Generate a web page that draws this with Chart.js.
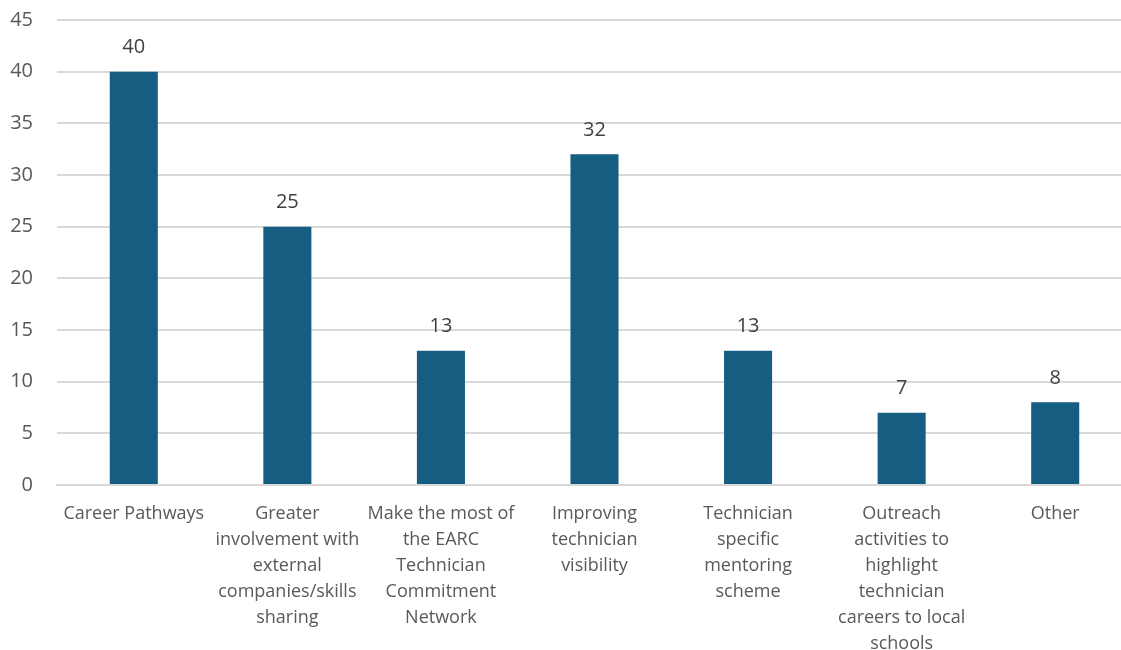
<!DOCTYPE html>
<html>
<head>
<meta charset="utf-8">
<script src="https://cdn.jsdelivr.net/npm/chart.js@4.4.1/dist/chart.umd.min.js"></script>
<style>
  html, body { margin: 0; padding: 0; background: #fff; overflow: hidden; }
  /* plot runs a little past the right edge of the window */
  #wrap { width: 1132px; height: 650px; position: relative; }
</style>
</head>
<body>
<div id="wrap"><canvas id="chart"></canvas></div>
<script>
// categories, wrapped as they appear under each bar
const categories = [
    ['Career Pathways'],
    ['Greater', 'involvement with', 'external', 'companies/skills', 'sharing'],
    ['Make the most of', 'the EARC', 'Technician', 'Commitment', 'Network'],
    ['Improving', 'technician', 'visibility'],
    ['Technician', 'specific', 'mentoring', 'scheme'],
    ['Outreach', 'activities to', 'highlight', 'technician', 'careers to local', 'schools'],
    ['Other']
];
const responses = [40, 25, 13, 32, 13, 7, 8];
const yTicks = [0, 5, 10, 15, 20, 25, 30, 35, 40, 45];

const textColor = '#595959';
const gridColor = '#d9d9d9';
const barColor = '#155e81';
const fontFamily = '"Open Sans", "Noto Sans", sans-serif';

// value labels above each bar
const valueLabels = {
    id: 'valueLabels',
    afterDatasetsDraw(chart) {
        const ctx = chart.ctx;
        const meta = chart.getDatasetMeta(0);
        ctx.save();
        ctx.fillStyle = '#404040';
        ctx.font = '20px ' + fontFamily;
        ctx.textAlign = 'center';
        ctx.textBaseline = 'middle';
        meta.data.forEach((bar, i) => {
            ctx.fillText(String(responses[i]), bar.x, bar.y - 24);
        });
        ctx.restore();
    }
};

new Chart(document.getElementById('chart'), {
    type: 'bar',
    data: {
        labels: categories,
        datasets: [{
            data: responses,
            backgroundColor: barColor,
            borderWidth: 0,
            categoryPercentage: 1,
            barPercentage: 0.313
        }]
    },
    options: {
        responsive: true,
        maintainAspectRatio: false,
        animation: false,
        layout: { padding: { top: 20, right: 0, left: 0, bottom: 0 } },
        plugins: { legend: { display: false }, tooltip: { enabled: false } },
        scales: {
            x: {
                grid: { display: false, drawTicks: false },
                border: { display: true, color: gridColor, width: 2 },
                ticks: {
                    color: textColor,
                    font: { family: fontFamily, size: 18, lineHeight: 1.44 },
                    padding: 16,
                    maxRotation: 0,
                    autoSkip: false
                },
                afterFit(scale) {
                    scale.height = 165;
                    scale.paddingLeft = 0;
                    scale.paddingRight = 0;
                }
            },
            y: {
                min: 0,
                max: 45,
                afterBuildTicks(scale) { scale.ticks = yTicks.map(v => ({ value: v })); },
                grid: { color: gridColor, lineWidth: 2, drawTicks: false },
                border: { display: false },
                ticks: {
                    color: textColor,
                    font: { family: fontFamily, size: 20 },
                    padding: 24
                },
                afterFit(scale) {
                    scale.width = 57;
                    scale.paddingTop = 0;
                    scale.paddingBottom = 0;
                }
            }
        }
    },
    plugins: [valueLabels]
});
</script>
</body>
</html>
